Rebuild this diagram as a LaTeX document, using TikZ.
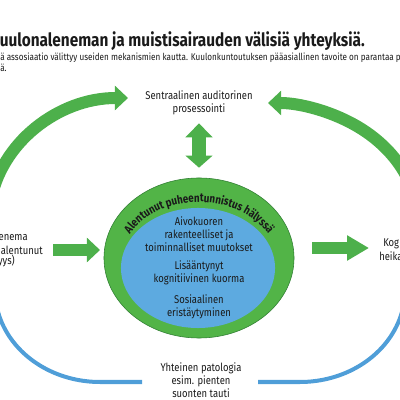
\documentclass[tikz,border=0pt]{standalone}
\usepackage{fontspec}
\setmainfont{Fira Sans}[FakeStretch=0.84]
\usetikzlibrary{arrows.meta,positioning,shapes.geometric,decorations.text}
\definecolor{arrowgreen}{HTML}{4DB04B}
\definecolor{ringgreen}{HTML}{52B447}
\definecolor{ringedge}{HTML}{2F7D32}
\definecolor{innerblue}{HTML}{5DAAE0}
\definecolor{lineblue}{HTML}{4F9ED8}
\definecolor{darktext}{HTML}{1A1A1A}
\tikzset{
  greenarrow/.style={draw=arrowgreen,line width=0.3cm,-{Triangle[length=0.33cm,width=0.6cm]}},
  doublearrow/.style={draw=arrowgreen,line width=0.35cm,{Triangle[length=0.35cm,width=0.66cm]}-{Triangle[length=0.3cm,width=0.66cm]}},
  bluepath/.style={draw=lineblue,line width=0.1cm},
  outerring/.style={ellipse,draw=ringedge,line width=0.4pt,fill=ringgreen,minimum width=4.75cm,minimum height=4cm,inner sep=0},
  innerring/.style={ellipse,fill=innerblue,minimum width=3.85cm,minimum height=3cm,inner sep=0},
  bodytext/.style={align=center,font=\fontsize{8}{9.2}\selectfont,text=darktext,inner sep=0},
  titletext/.style={anchor=base west,font=\fontsize{13}{15}\selectfont\bfseries,text=darktext,inner sep=0},
  introtext/.style={anchor=base west,font=\fontsize{6.9}{8}\selectfont,text=darktext,inner sep=0}
}
\begin{document}
\begin{tikzpicture}[x=0.025cm,y=0.025cm]
\useasboundingbox (0,0) rectangle (400,400);
\clip (0,0) rectangle (400,400);

% otsikko ja johdanto
\node[titletext] (title) at (-10,353) {Kuulonaleneman ja muistisairauden välisiä yhteyksiä.};
\node[introtext] (intro) at (0,339) {ä assosiaatio välittyy useiden mekanismien kautta. Kuulonkuntoutuksen pääasiallinen tavoite on parantaa p};
\node[introtext] (intro2) at (0,328) {ä.};

% keskus
\node[outerring] (hearing) at (199,142) {};
\node[innerring] (mechanisms) at (198,132) {};
\path[decorate,decoration={text along path,text align=center,
  text={|\bfseries\fontsize{8.3}{10}\selectfont\color{darktext}|Alentunut puheentunnistus hälyssä}}]
  (199,138) ++(153:78 and 60) arc[start angle=153,end angle=27,x radius=78,y radius=60];
\node[bodytext] (cortex) at (199,166) {Aivokuoren\\rakenteelliset ja\\toiminnalliset muutokset};
\node[bodytext] (load) at (199,127) {Lisääntynyt\\kognitiivinen kuorma};
\node[bodytext] (social) at (199,93) {Sosiaalinen\\eristäytyminen};

\node[bodytext] (central) at (199,297) {Sentraalinen auditorinen\\prosessointi};
\draw[doublearrow,shorten <=0.2cm,shorten >=0.25cm] (central.south) -- (hearing.north);

% reunat
\node[bodytext,anchor=east] (lossA) at (28,162) {enema};
\node[bodytext,anchor=east] (lossB) at (43,150) {alentunut};
\node[bodytext,anchor=east] (lossC) at (15,139) {yys)};
\node[bodytext,anchor=west] (cogA) at (383,156) {Kog};
\node[bodytext,anchor=west] (cogB) at (379,144) {heika};
\node[bodytext] (pathology) at (201,20) {Yhteinen patologia\\esim. pienten\\suonten tauti};

\coordinate (lossout) at (53,150);
\coordinate (lossin) at (100,150);
\coordinate (cogout) at (312,152);
\coordinate (cogin) at (369,152);
\draw[greenarrow] (lossout) -- (lossin);
\draw[greenarrow,-{Triangle[length=0.55cm,width=0.6cm]}] (cogout) -- (cogin);

% kaaret
\coordinate (leftloop) at (128,180);
\coordinate (rightloop) at (268,178);
\draw[greenarrow] (leftloop) ++(172:139 and 122) arc[start angle=172,end angle=90,x radius=139,y radius=122];
\draw[greenarrow] (rightloop) ++(-5:150 and 119) arc[start angle=-5,end angle=90,x radius=150,y radius=119];

\coordinate (pathL) at (142,18);
\coordinate (pathR) at (258,18);
\draw[bluepath] (pathL) -- (100,18) arc[start angle=270,end angle=175,x radius=105,y radius=92];
\draw[bluepath] (pathR) -- (300,18) arc[start angle=270,end angle=365,x radius=105,y radius=92];
\end{tikzpicture}
\end{document}
